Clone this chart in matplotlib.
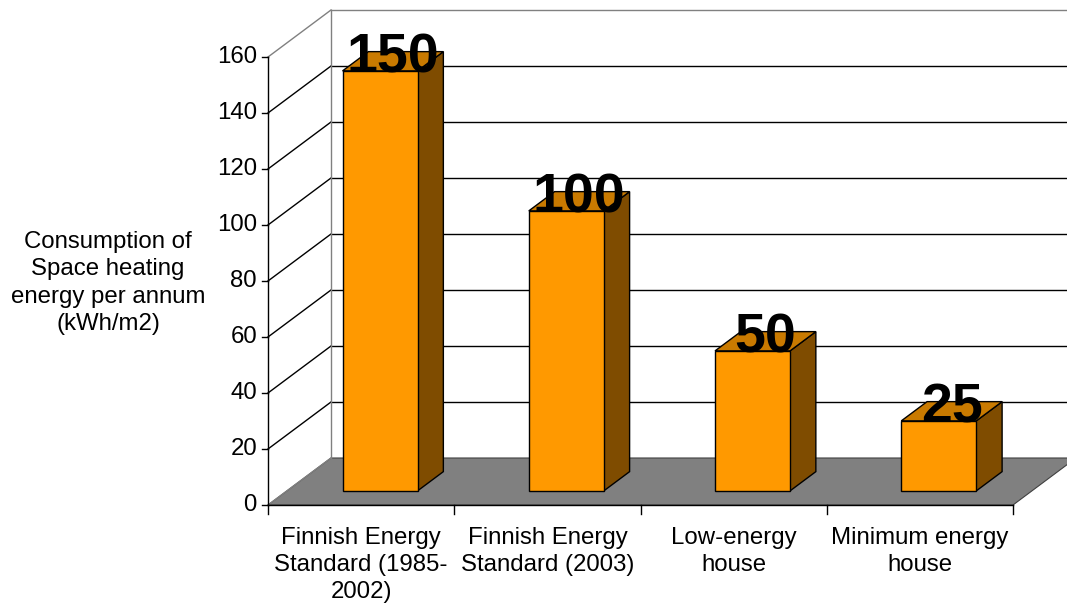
import matplotlib
matplotlib.use("Agg")
import matplotlib.pyplot as plt
from matplotlib.patches import Polygon

categories = ["Finnish Energy\nStandard (1985-\n2002)", "Finnish Energy\nStandard (2003)",
              "Low-energy\nhouse", "Minimum energy\nhouse"]
values = [150, 100, 50, 25]
yticks = [0, 20, 40, 60, 80, 100, 120, 140, 160]
ylabel = "Consumption of\nSpace heating\nenergy per annum\n(kWh/m2)"

PXC = 186.25   # pixels per category
PXV = 2.8      # pixels per value unit
DX = 63 / PXC  # depth offset in category units
DY = 47 / PXV  # depth offset in value units
D0, D1 = 0.30, 0.71
BW = 75 / PXC
VMAX = 160
NC = len(categories)

FRONT = "#FF9900"
TOP = "#C97A00"
SIDE = "#7F4C00"
FLOOR = "#808080"

fig = plt.figure(figsize=(10.67, 6.05), dpi=100)
ax = fig.add_axes([0, 0, 1, 1])
ax.set_xlim(-268 / PXC, 799 / PXC)
ax.set_ylim(-100 / PXV, 505 / PXV)
ax.axis("off")

font = "Liberation Sans"
fs = 17.3
LS = 1.3

def P(x, v, d):
    return (x + d * DX, v + d * DY)

# floor
ax.add_patch(Polygon([P(0, 0, 0), P(NC, 0, 0), P(NC, 0, 1), P(0, 0, 1)],
                     closed=True, facecolor=FLOOR, edgecolor="#404040", lw=0.8, zorder=1))
# back wall grid lines and side wall diagonals
for v in yticks[1:]:
    col = "#808080" if v == VMAX else "black"
    ax.plot(*zip(P(0, v, 1), P(NC + 0.5, v, 1)), color=col, lw=1.0, zorder=2)
    ax.plot(*zip(P(0, v, 0), P(0, v, 1)), color=col, lw=1.0, zorder=2)
# back wall left edge
ax.plot(*zip(P(0, 0, 1), P(0, VMAX, 1)), color="#808080", lw=1.0, zorder=2)
ax.plot(*zip(P(0, 0, 0), P(0, 0, 1)), color="#808080", lw=1.0, zorder=2)

# axes lines
ax.plot([0, 0], [0, VMAX], color="black", lw=1.0, zorder=3)
ax.plot([0, NC], [0, 0], color="black", lw=1.0, zorder=3)
for v in yticks:
    ax.plot([-6 / PXC, 0], [v, v], color="black", lw=1.0, zorder=3)
    ax.text(-11 / PXC, v, str(v), ha="right", va="center", fontsize=fs,
            family=font, color="black")
for i in range(NC + 1):
    ax.plot([i, i], [0, -9 / PXV], color="black", lw=1.0, zorder=3)

# bars
for i, val in enumerate(values):
    c = i + 0.5
    xl, xr = c - BW / 2, c + BW / 2
    front = [P(xl, 0, D0), P(xr, 0, D0), P(xr, val, D0), P(xl, val, D0)]
    top = [P(xl, val, D0), P(xr, val, D0), P(xr, val, D1), P(xl, val, D1)]
    side = [P(xr, 0, D0), P(xr, 0, D1), P(xr, val, D1), P(xr, val, D0)]
    ax.add_patch(Polygon(side, closed=True, facecolor=SIDE, edgecolor="black", lw=1.0, zorder=5))
    ax.add_patch(Polygon(top, closed=True, facecolor=TOP, edgecolor="black", lw=1.0, zorder=5))
    ax.add_patch(Polygon(front, closed=True, facecolor=FRONT, edgecolor="black", lw=1.0, zorder=5))
    lx, ly = P(c, val, (D0 + D1) / 2)
    ax.text(lx, val + D0 * DY - 1.5 / PXV, str(val), ha="center", va="baseline",
            fontsize=40, fontweight="bold", family=font, color="black", zorder=6)
    ax.text(c, -22 / PXV, categories[i], ha="center", va="top", fontsize=fs,
            family=font, color="black", linespacing=LS)

ax.text(-160 / PXC, (505 - 283) / PXV, ylabel, ha="center", va="center",
        fontsize=fs, family=font, color="black", linespacing=LS)

fig.savefig("out.png", dpi=100)
